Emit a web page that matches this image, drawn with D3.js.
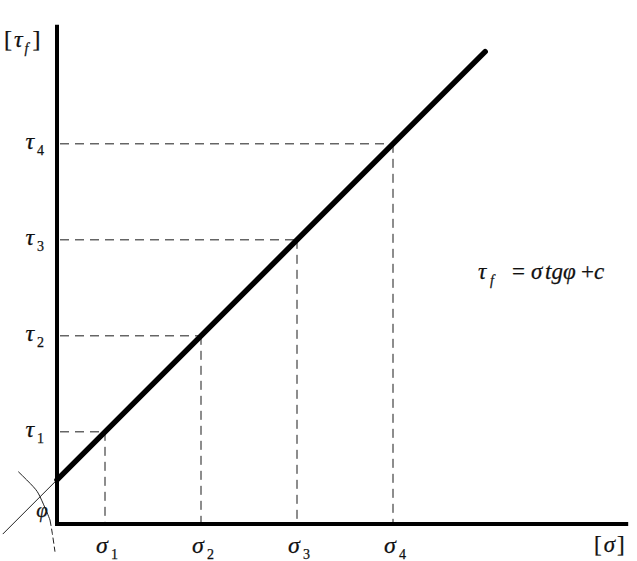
<!DOCTYPE html>
<html>
<head>
<meta charset="utf-8">
<script src="https://cdn.jsdelivr.net/npm/d3@7/dist/d3.min.js"></script>
<style>
  html, body { margin: 0; padding: 0; background: #fff; }
  svg { display: block; }
  text { font-family: "Liberation Serif", "Times New Roman", serif; fill: #111; stroke: #111; stroke-width: 0.25; }
</style>
</head>
<body>
<svg id="chart" width="637" height="561"></svg>
<script>
// ---- data (in chart units) ----
const sigmaNames = ["1", "2", "3", "4"];
const sigmaValues = [1, 3, 5, 7];
const tauValues = [1.92, 3.92, 5.92, 7.92];
const lineSigma = [0, 8.92];
const lineTau = [0.92, 9.84];
const extSigma = [-1.13, 0];
const extTau = [-0.21, 0.92];
const arcSigma = [-0.806, -0.494, -0.354, -0.215, -0.146];
const arcTau = [1.09, 0.777, 0.569, 0.256, 0.083];
const arcTailSigma = [-0.146, -0.098, -0.042];
const arcTailTau = [0.083, -0.194, -0.577];
const axisMaxSigma = 11.9;
const axisMaxTau = 10.4;

const svg = d3.select("#chart");
const x = d3.scaleLinear().domain([0, 12]).range([57, 633]);
const y = d3.scaleLinear().domain([0, axisMaxTau]).range([524, 24.8]);

// dashed guides
const pts = sigmaValues.map((s, i) => ({ s, t: tauValues[i], n: sigmaNames[i] }));
const guides = svg.append("g").attr("stroke", "#1a1a1a").attr("stroke-width", 1)
  .attr("stroke-dasharray", "9,6").attr("fill", "none");
guides.selectAll("line.h").data(pts).join("line").attr("class", "h")
  .attr("x1", x(0) + 3).attr("x2", d => x(d.s)).attr("y1", d => y(d.t)).attr("y2", d => y(d.t));
guides.selectAll("line.v").data(pts).join("line").attr("class", "v")
  .attr("x1", d => x(d.s)).attr("x2", d => x(d.s)).attr("y1", d => y(d.t)).attr("y2", y(0));

// axes
svg.append("line").attr("x1", x(0)).attr("x2", x(0)).attr("y1", y(axisMaxTau)).attr("y2", y(0) + 2)
  .attr("stroke", "#000").attr("stroke-width", 4);
svg.append("line").attr("x1", x(0) - 2).attr("x2", x(axisMaxSigma)).attr("y1", y(0)).attr("y2", y(0))
  .attr("stroke", "#000").attr("stroke-width", 4);

// extension line and angle arc
svg.append("line").attr("x1", x(extSigma[0])).attr("y1", y(extTau[0]))
  .attr("x2", x(extSigma[1])).attr("y2", y(extTau[1]))
  .attr("stroke", "#222").attr("stroke-width", 1);
const curve = d3.line().x(d => x(d[0])).y(d => y(d[1])).curve(d3.curveNatural);
svg.append("path").attr("d", curve(arcSigma.map((s, i) => [s, arcTau[i]])))
  .attr("fill", "none").attr("stroke", "#222").attr("stroke-width", 1);
svg.append("path").attr("d", curve(arcTailSigma.map((s, i) => [s, arcTailTau[i]])))
  .attr("fill", "none").attr("stroke", "#222").attr("stroke-width", 1).attr("stroke-dasharray", "6,3");

// main strength line
svg.append("line").attr("x1", x(lineSigma[0])).attr("y1", y(lineTau[0]))
  .attr("x2", x(lineSigma[1])).attr("y2", y(lineTau[1]))
  .attr("stroke", "#000").attr("stroke-width", 5.5).attr("stroke-linecap", "round");

// labels
function symLabel(g, sym, sub, fs) {
  g.append("tspan").attr("font-style", "italic").attr("font-size", fs).text(sym);
  g.append("tspan").attr("font-size", Math.round(fs * 0.6)).attr("dx", 3).attr("dy", 6).text(sub);
}
pts.forEach(d => {
  const ty = svg.append("text").attr("x", 44).attr("y", y(d.t) + 5).attr("text-anchor", "end");
  symLabel(ty, "τ", d.n, 24);
  const tx = svg.append("text").attr("x", x(d.s) + 2).attr("y", 553).attr("text-anchor", "middle");
  symLabel(tx, "σ", d.n, 24);
});

// axis titles
const yt = svg.append("text").attr("x", 4).attr("y", 47).attr("font-size", 24);
yt.append("tspan").text("[");
yt.append("tspan").attr("font-style", "italic").attr("dx", 2).text("τ");
yt.append("tspan").attr("font-style", "italic").attr("font-size", 14).attr("dx", 2).attr("dy", 6).text("f");
yt.append("tspan").attr("dx", 4).attr("dy", -6).text("]");

const xt = svg.append("text").attr("x", 594).attr("y", 552).attr("font-size", 23);
xt.append("tspan").text("[");
xt.append("tspan").attr("font-style", "italic").attr("dx", 2).text("σ");
xt.append("tspan").attr("dx", 2).text("]");

// angle label
svg.append("text").attr("x", 42).attr("y", 517).attr("text-anchor", "middle")
  .attr("font-style", "italic").attr("font-size", 21).text("φ");

// formula
const fy = 279;
const formula = svg.append("g").attr("font-size", 23);
formula.append("text").attr("x", 478).attr("y", fy).attr("font-style", "italic").text("τ");
formula.append("text").attr("x", 490).attr("y", fy + 6).attr("font-style", "italic").attr("font-size", 14).text("f");
formula.append("text").attr("x", 512).attr("y", fy).text("=");
formula.append("text").attr("x", 531).attr("y", fy).attr("font-style", "italic").text("σ");
formula.append("text").attr("x", 545).attr("y", fy).attr("font-style", "italic").text("tgφ");
formula.append("text").attr("x", 581).attr("y", fy).text("+");
formula.append("text").attr("x", 594).attr("y", fy).attr("font-style", "italic").text("c");
</script>
</body>
</html>
